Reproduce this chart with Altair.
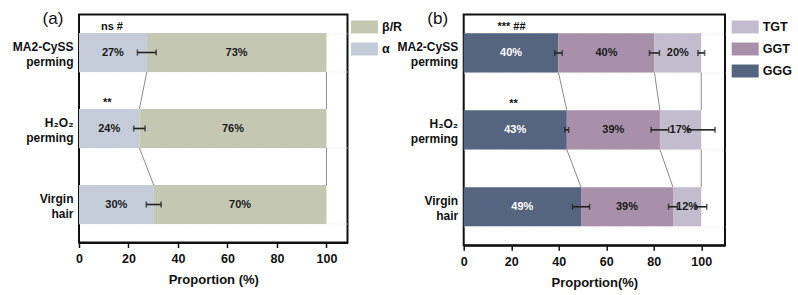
import altair as alt
import pandas as pd

# Sample groups (two-line labels, split on newline by the axis)
categories = ["MA2-CySS\nperming", "H\u2082O\u2082\nperming", "Virgin\nhair"]

# Panel (a): secondary structure proportions (%)
a_components = ["\u03b1", "\u03b2/R"]
a_legend_order = ["\u03b2/R", "\u03b1"]
a_colors = {"\u03b1": "#c3ccd8", "\u03b2/R": "#c4c8b3"}
a_text_colors = ["#1a1a1a", "#1a1a1a"]
alpha_pct = [27.4, 24.4, 30.2]
beta_pct = [72.6, 75.6, 69.8]
alpha_err = [3.8, 2.3, 3.0]
a_sig = ["ns #", "**", ""]
a_sig_x = [13.3, 11.4, 0.0]

# Panel (b): disulfide conformation proportions (%)
b_components = ["GGG", "GGT", "TGT"]
b_legend_order = ["TGT", "GGT", "GGG"]
b_colors = {"GGG": "#56657f", "GGT": "#a88faa", "TGT": "#c1bdcf"}
b_text_colors = ["#ffffff", "#1a1a1a", "#1a1a1a"]
ggg_pct = [39.9, 43.4, 49.4]
ggt_pct = [40.4, 39.2, 38.7]
tgt_pct = [19.7, 17.4, 11.9]
ggg_err = [1.6, 0.8, 3.6]
ggt_err = [2.1, 3.7, 1.9]
tgt_err = [1.4, 5.8, 2.3]
b_sig = ["*** ##", "**", ""]
b_sig_x = [20.1, 21.0, 0.0]

panel_letters = ["(a)", "(b)"]
x_ticks = [0, 20, 40, 60, 80, 100]

FONT = "Liberation Sans"
INK = "#111111"


def build_panel(letter, components, series, errors, colors, legend_order,
                text_colors, sig, sig_x, x_max, width, height, x_title,
                legend_x):
    bars, errs = [], []
    ends = {c: [] for c in components}
    for i, cat in enumerate(categories):
        start = 0.0
        for comp, vals, err, tc in zip(components, series, errors, text_colors):
            end = start + vals[i]
            bars.append(dict(cat=cat, comp=comp, start=start, end=end,
                             mid=(start + end) / 2,
                             label=f"{round(vals[i])}%", tcol=tc))
            ends[comp].append(end)
            if err is not None:
                errs.append(dict(cat=cat, lo=end - err[i], hi=end + err[i]))
            start = end
    bars = pd.DataFrame(bars)
    errs = pd.DataFrame(errs)

    # thin connectors between consecutive bars at every segment boundary
    links = []
    for comp in components:
        for i in range(len(categories) - 1):
            links.append(dict(c1=categories[i], c2=categories[i + 1],
                              x1=ends[comp][i], x2=ends[comp][i + 1]))
    links = pd.DataFrame(links)

    sig_df = pd.DataFrame(dict(cat=categories, txt=sig, x=sig_x))
    sig_df = sig_df[sig_df.txt != ""]

    x_scale = alt.Scale(domain=[0, x_max], nice=False, zero=True)
    x_axis = alt.Axis(values=x_ticks, title=x_title, grid=False,
                      labelFontSize=12.5, labelFontWeight="bold",
                      labelColor=INK, labelPadding=5, labelFlush=False,
                      tickSize=5, tickWidth=1.5, tickColor=INK,
                      domainColor=INK, domainWidth=2,
                      titleFontSize=13, titleFontWeight="bold",
                      titleColor=INK, titlePadding=8.5)
    y_scale = alt.Scale(domain=categories, paddingInner=0.49,
                        paddingOuter=0.245)
    y_axis = alt.Axis(title=None, labelExpr="split(datum.label, '\\n')",
                      labelFontSize=12, labelFontWeight="bold",
                      labelColor=INK, labelLineHeight=15, labelPadding=6,
                      labelOffset=-6,
                      ticks=False, tickSize=0, domain=False,
                      grid=True, tickBand="extent", gridColor="#e4e4e4",
                      gridDash=[1, 2], gridWidth=1)

    def X(field):
        return alt.X(f"{field}:Q", scale=x_scale, axis=x_axis)

    def Y(field="cat", **kw):
        return alt.Y(f"{field}:N", scale=y_scale, axis=y_axis, sort=None, **kw)

    connector = alt.Chart(links).mark_rule(color="#8c8c8c", strokeWidth=1).encode(
        x=X("x1"), x2="x2:Q",
        y=Y("c1", bandPosition=1),
        y2=alt.Y2("c2:N", bandPosition=0),
    )

    bar = alt.Chart(bars).mark_bar().encode(
        x=X("start"), x2="end:Q", y=Y(),
        color=alt.Color("comp:N",
                        scale=alt.Scale(domain=legend_order,
                                        range=[colors[c] for c in legend_order]),
                        legend=alt.Legend(orient="none", legendX=legend_x,
                                          legendY=-1, title=None,
                                          symbolType="M-1,-0.48H1V0.48H-1Z",
                                          symbolSize=729, symbolStrokeWidth=0,
                                          symbolOpacity=1,
                                          labelFontSize=12.5,
                                          labelFontWeight="bold",
                                          labelColor=INK, labelOffset=4,
                                          rowPadding=2)),
    )

    err_rule = alt.Chart(errs).mark_rule(color="#222222", strokeWidth=1.6).encode(
        x=X("lo"), x2="hi:Q", y=Y())
    cap_lo = alt.Chart(errs).mark_tick(color="#222222", size=6, thickness=1.6).encode(
        x=X("lo"), y=Y())
    cap_hi = alt.Chart(errs).mark_tick(color="#222222", size=6, thickness=1.6).encode(
        x=X("hi"), y=Y())

    values = alt.Chart(bars).mark_text(fontSize=11, fontWeight="bold").encode(
        x=X("mid"), y=Y(), text="label:N",
        color=alt.Color("tcol:N", scale=None))

    marks = alt.Chart(sig_df).mark_text(fontSize=11, fontWeight="bold",
                                        baseline="alphabetic", dy=-23,
                                        color=INK).encode(
        x=X("x"), y=Y(), text="txt:N")

    tag = alt.Chart(pd.DataFrame(dict(t=[letter]))).mark_text(
        fontSize=17, align="center", baseline="middle", color=INK).encode(
        x=alt.value(-26), y=alt.value(4), text="t:N")

    return alt.layer(connector, bar, err_rule, cap_lo, cap_hi, values, marks,
                     tag).properties(width=width, height=height)


panel_a = build_panel(panel_letters[0], a_components, [alpha_pct, beta_pct],
                      [alpha_err, None], a_colors, a_legend_order,
                      a_text_colors, a_sig, a_sig_x, 108.5, 268.5, 228,
                      "Proportion (%)", 272)

panel_b = build_panel(panel_letters[1], b_components,
                      [ggg_pct, ggt_pct, tgt_pct], [ggg_err, ggt_err, tgt_err],
                      b_colors, b_legend_order, b_text_colors, b_sig, b_sig_x,
                      110, 261.3, 230.7, "Proportion(%)", 268)

chart = alt.hconcat(panel_a, panel_b, spacing=115.7, bounds="flush").resolve_scale(
    x="independent", y="independent", color="independent"
).resolve_legend(color="independent").properties(
    padding={"left": 11, "top": 7.5, "right": 0, "bottom": 0},
    background="white",
).configure(font=FONT).configure_view(stroke=INK, strokeWidth=2)

chart.save("out.html", embed_options={"renderer": "svg", "actions": False})
